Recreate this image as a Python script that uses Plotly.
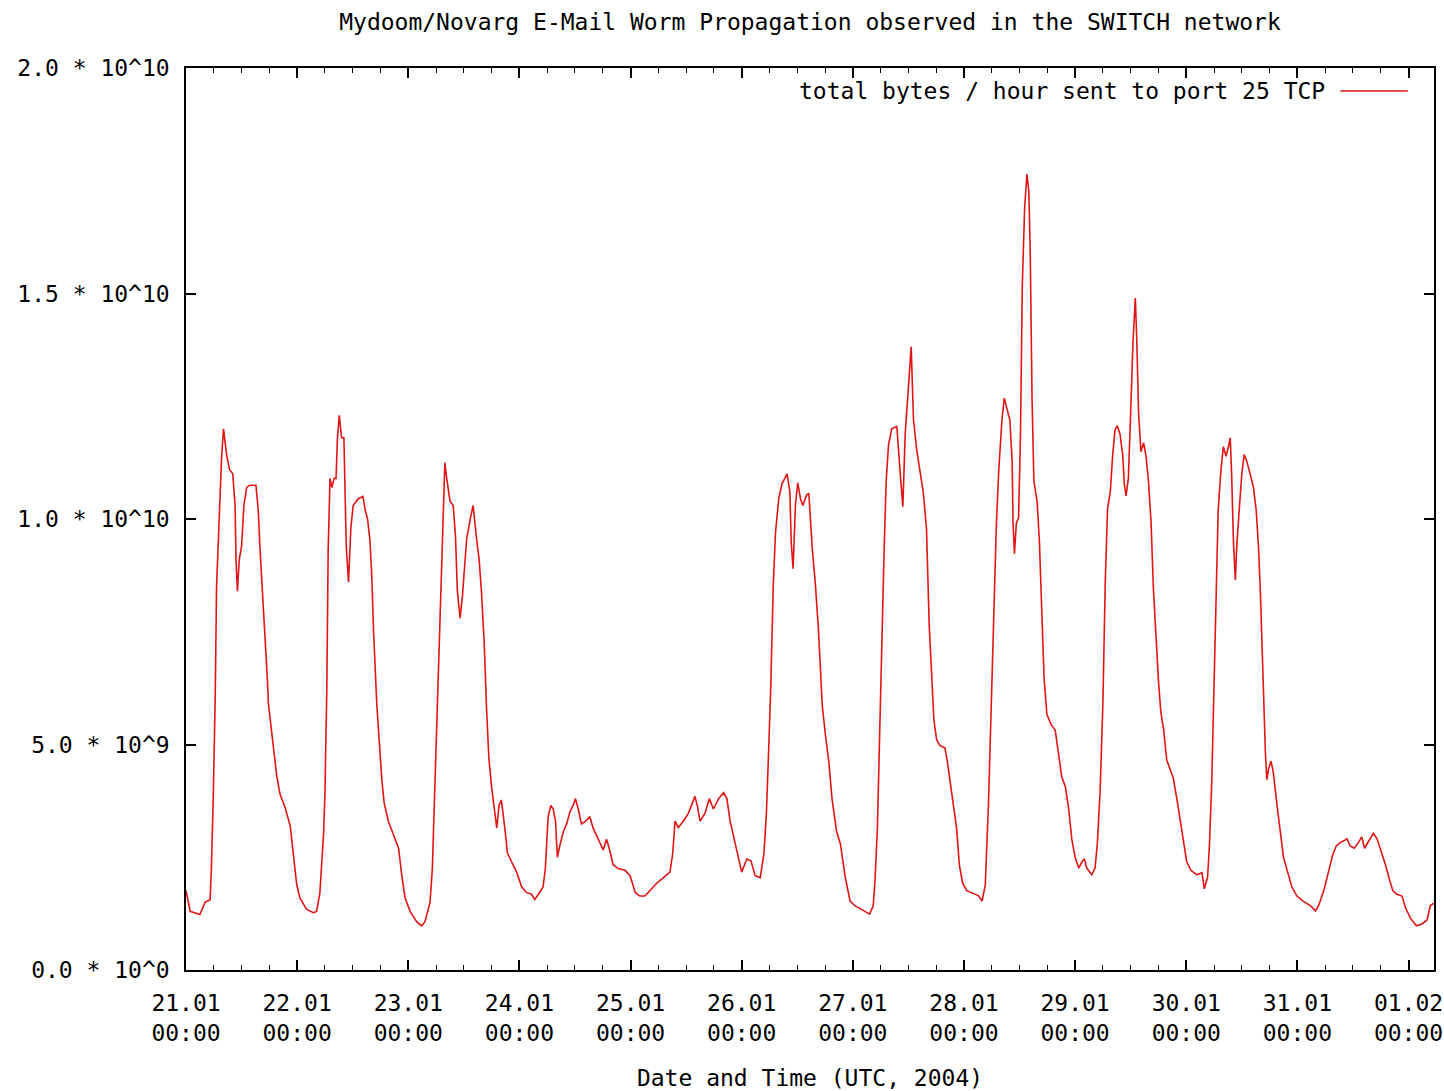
import pandas as pd
import plotly.graph_objects as go

# hours after 21.01.2004 00:00 UTC
hours = [
    0.0, 0.9, 3.0, 4.1, 5.2, 5.5, 5.9, 6.3, 6.6, 7.2, 7.7, 8.1, 8.8, 9.4, 10.1, 10.6, 10.8, 11.1, 11.5, 12.0,
    12.5, 13.1, 13.8, 15.1, 15.6, 16.0, 16.6, 17.1, 17.6, 17.8, 18.5, 19.0, 19.6, 20.3, 21.4, 22.5, 23.2, 23.9,
    24.6, 26.0, 27.5, 28.2, 28.9, 29.7, 30.0, 30.4, 30.7, 31.1, 31.5, 32.0, 32.4, 32.7, 33.1, 33.6, 34.1, 34.6,
    35.1, 35.6, 36.1, 37.2, 38.2, 38.7, 39.2, 39.7, 40.1, 40.5, 41.2, 41.8, 42.3, 42.8, 43.7, 44.8, 45.9, 46.6,
    47.3, 48.4, 49.8, 50.9, 51.6, 52.7, 53.2, 53.6, 54.1, 54.6, 55.1, 55.6, 55.9, 56.3, 57.0, 57.7, 58.2, 58.6,
    59.2, 59.7, 60.1, 60.6, 61.3, 62.0, 62.7, 63.3, 63.8, 64.4, 64.9, 65.4, 66.0, 66.6, 67.1, 67.6, 68.1, 68.9,
    69.4, 70.3, 71.4, 72.5, 73.5, 74.6, 75.3, 76.1, 77.1, 77.6, 78.2, 78.8, 79.3, 79.8, 80.2, 80.7, 81.5, 82.2,
    82.9, 83.6, 84.1, 84.7, 85.4, 86.3, 87.2, 87.9, 89.0, 90.1, 90.8, 91.5, 92.2, 93.3, 94.8, 95.9, 97.0, 98.0,
    99.1, 100.2, 101.7, 103.1, 104.5, 105.1, 105.6, 106.3, 107.4, 108.5, 109.9, 110.4, 111.0, 112.1, 113.0,
    113.9, 115.0, 116.1, 116.8, 117.5, 118.6, 119.3, 120.0, 121.1, 122.0, 122.9, 124.0, 124.8, 125.3, 125.8,
    126.3, 126.8, 127.3, 128.0, 128.7, 129.8, 130.4, 130.7, 131.1, 131.6, 132.1, 132.7, 133.2, 134.0, 134.5,
    135.2, 135.9, 136.6, 137.4, 138.1, 138.8, 139.5, 140.5, 141.3, 142.3, 143.4, 144.5, 145.6, 146.6, 147.6,
    148.4, 148.8, 149.3, 149.7, 150.3, 150.8, 151.2, 151.7, 152.4, 153.5, 154.2, 154.8, 155.3, 155.8, 156.3,
    156.6, 157.1, 157.8, 158.5, 159.2, 159.9, 160.5, 161.0, 161.5, 162.1, 162.8, 163.9, 164.4, 165.0, 165.7,
    166.4, 167.0, 167.7, 168.6, 170.0, 171.1, 171.9, 172.6, 173.3, 173.8, 174.4, 175.0, 175.5, 176.2, 176.7,
    177.3, 177.9, 178.4, 178.6, 178.9, 179.3, 179.8, 180.2, 180.6, 181.1, 181.6, 182.0, 182.3, 182.7, 183.1,
    183.8, 184.3, 184.8, 185.3, 185.9, 186.8, 187.7, 188.4, 189.1, 189.9, 190.6, 191.3, 192.0, 192.8, 193.5,
    194.0, 194.5, 195.6, 196.3, 196.8, 197.4, 198.0, 198.5, 199.0, 199.6, 200.1, 200.6, 201.1, 201.7, 202.3,
    202.6, 203.0, 203.5, 203.9, 204.5, 205.0, 205.3, 205.7, 206.2, 206.8, 207.3, 207.8, 208.4, 208.9, 209.5,
    210.0, 210.5, 211.1, 211.8, 212.5, 213.2, 214.0, 214.7, 215.4, 216.1, 217.0, 218.3, 219.4, 219.9, 220.6,
    221.0, 221.5, 222.0, 222.5, 222.9, 223.5, 224.0, 224.6, 225.1, 225.5, 225.8, 226.2, 226.6, 226.9, 227.5,
    228.0, 228.5, 229.1, 229.8, 230.5, 231.1, 231.6, 232.0, 232.4, 232.7, 233.1, 233.4, 233.8, 234.3, 234.8,
    235.6, 236.3, 237.0, 237.9, 238.8, 239.9, 241.3, 242.8, 243.9, 244.6, 245.7, 246.7, 247.7, 248.4, 249.3,
    250.1, 250.7, 251.4, 252.3, 253.2, 253.9, 254.5, 255.4, 256.4, 257.2, 258.0, 259.0, 259.9, 260.6, 261.5,
    262.6, 263.3, 264.4, 265.7, 266.9, 268.0, 268.7, 269.5,
]

# total bytes / hour, in units of 10^10
bytes_e10 = [
    0.176, 0.13, 0.123, 0.15, 0.156, 0.23, 0.39, 0.60, 0.85, 1.03, 1.14, 1.20, 1.14, 1.11, 1.10, 1.03, 0.91, 0.84, 0.91, 0.94,
    1.03, 1.07, 1.075, 1.075, 1.02, 0.93, 0.83, 0.73, 0.64, 0.59, 0.53, 0.48, 0.43, 0.39, 0.36, 0.32, 0.26, 0.19,
    0.16, 0.135, 0.127, 0.13, 0.17, 0.30, 0.39, 0.62, 0.93, 1.09, 1.07, 1.09, 1.09, 1.18, 1.23, 1.18, 1.18, 0.94,
    0.86, 0.98, 1.03, 1.045, 1.05, 1.02, 1.0, 0.955, 0.88, 0.75, 0.59, 0.49, 0.42, 0.37, 0.33, 0.30, 0.27, 0.21,
    0.16, 0.13, 0.107, 0.098, 0.107, 0.15, 0.225, 0.36, 0.52, 0.71, 0.89, 1.045, 1.125, 1.09, 1.04, 1.03, 0.96, 0.84,
    0.78, 0.83, 0.89, 0.955, 0.996, 1.03, 0.96, 0.91, 0.84, 0.725, 0.58, 0.47, 0.405, 0.36, 0.315, 0.365, 0.377, 0.31,
    0.26, 0.24, 0.217, 0.184, 0.172, 0.168, 0.156, 0.168, 0.184, 0.225, 0.34, 0.365, 0.357, 0.33, 0.25, 0.275, 0.307, 0.324,
    0.35, 0.365, 0.38, 0.357, 0.324, 0.33, 0.34, 0.315, 0.29, 0.266, 0.29, 0.266, 0.234, 0.225, 0.221, 0.209, 0.172, 0.164,
    0.164, 0.176, 0.193, 0.205, 0.217, 0.258, 0.33, 0.316, 0.33, 0.348, 0.385, 0.365, 0.33, 0.348, 0.38,
    0.357, 0.38, 0.393, 0.38, 0.33, 0.283, 0.25, 0.217, 0.246, 0.242, 0.209, 0.205, 0.258, 0.34, 0.48,
    0.635, 0.85, 0.97, 1.045, 1.078, 1.10, 1.06, 0.947, 0.89, 1.03, 1.08, 1.045, 1.03, 1.053, 1.057,
    0.94, 0.857, 0.75, 0.586, 0.52, 0.463, 0.38, 0.307, 0.28, 0.21, 0.153, 0.142, 0.136, 0.13, 0.124,
    0.142, 0.20, 0.315, 0.498, 0.75, 0.947, 1.084, 1.164, 1.20, 1.205, 1.106, 1.027, 1.187, 1.268, 1.348,
    1.382, 1.22, 1.153, 1.106, 1.06, 0.98, 0.763, 0.659, 0.555, 0.51, 0.498, 0.492, 0.463, 0.418, 0.371,
    0.315, 0.233, 0.193, 0.176, 0.17, 0.165, 0.153, 0.188, 0.371, 0.555, 0.808, 0.99, 1.106, 1.22, 1.268,
    1.245, 1.22, 1.13, 0.99, 0.923, 0.99, 1.003, 1.187, 1.52, 1.69, 1.765, 1.727, 1.60, 1.268, 1.084,
    1.038, 0.947, 0.808, 0.647, 0.567, 0.544, 0.532, 0.474, 0.429, 0.406, 0.358, 0.289, 0.25, 0.226, 0.24,
    0.246, 0.226, 0.211, 0.226, 0.28, 0.397, 0.592, 0.856, 1.022, 1.061, 1.14, 1.197, 1.207, 1.188, 1.14,
    1.08, 1.051, 1.09, 1.207, 1.393, 1.49, 1.403, 1.237, 1.149, 1.169, 1.14, 1.09, 0.993, 0.847, 0.729,
    0.641, 0.573, 0.534, 0.465, 0.446, 0.426, 0.377, 0.328, 0.289, 0.24, 0.221, 0.211, 0.216, 0.18, 0.205,
    0.275, 0.414, 0.602, 0.848, 1.02, 1.11, 1.16, 1.139, 1.16, 1.18, 1.10, 0.947, 0.865, 0.939, 1.029,
    1.10, 1.143, 1.127, 1.10, 1.07, 1.02, 0.939, 0.84, 0.709, 0.586, 0.48, 0.422, 0.447, 0.463, 0.438,
    0.365, 0.30, 0.25, 0.217, 0.184, 0.164, 0.152, 0.143, 0.131, 0.143, 0.176, 0.217, 0.258, 0.275, 0.283,
    0.287, 0.291, 0.275, 0.27, 0.283, 0.295, 0.27, 0.287, 0.303, 0.291, 0.266, 0.234, 0.20, 0.176, 0.168,
    0.164, 0.139, 0.115, 0.098, 0.102, 0.111, 0.143, 0.148,
]

x_tick_dates = ["2004-01-21", "2004-01-22", "2004-01-23", "2004-01-24", "2004-01-25", "2004-01-26",
                "2004-01-27", "2004-01-28", "2004-01-29", "2004-01-30", "2004-01-31", "2004-02-01"]
x_tick_labels = ["21.01<br>00:00", "22.01<br>00:00", "23.01<br>00:00", "24.01<br>00:00",
                 "25.01<br>00:00", "26.01<br>00:00", "27.01<br>00:00", "28.01<br>00:00",
                 "29.01<br>00:00", "30.01<br>00:00", "31.01<br>00:00", "01.02<br>00:00"]
y_tick_vals = [0, 5e9, 1e10, 1.5e10, 2e10]
y_tick_labels = ["0.0 * 10^0", "5.0 * 10^9", "1.0 * 10^10", "1.5 * 10^10", "2.0 * 10^10"]

start = pd.Timestamp("2004-01-21 00:00")
times = start + pd.to_timedelta(hours, unit="h")
values = [v * 1e10 for v in bytes_e10]

FONT = "DejaVu Sans Mono"
RED = "#e01515"

fig = go.Figure()
fig.add_trace(go.Scatter(x=times, y=values, mode="lines",
                         line=dict(color=RED, width=1.6),
                         name="total bytes / hour sent to port 25 TCP",
                         showlegend=False, hoverinfo="skip"))

# plot box at 186..1434 x 68..970 of a 1444x1091 page (body margin removed below)
fig.update_layout(
    width=1444, height=1091,
    margin=dict(l=186, r=10, t=68, b=121, autoexpand=False),
    paper_bgcolor="white", plot_bgcolor="white",
    font=dict(family=FONT, size=23, color="black"),
    title=dict(text="Mydoom/Novarg E-Mail Worm Propagation observed in the SWITCH network",
               x=0.5, xref="paper", xanchor="center", y=1 - 22 / 1091, yref="container",
               yanchor="middle", font=dict(family=FONT, size=23, color="black")),
)

fig.update_xaxes(
    type="date", automargin=False,
    range=[start, start + pd.Timedelta(hours=269.5)],
    tickmode="array", tickvals=x_tick_dates, ticktext=x_tick_labels,
    ticks="inside", ticklen=10, tickwidth=1.5, tickcolor="black",
    showline=True, linecolor="black", linewidth=1.5, mirror="allticks",
    showgrid=False, zeroline=False,
    minor=dict(ticks="inside", ticklen=5, tickwidth=1.2, tickcolor="black",
               dtick=6 * 3600 * 1000, tick0="2004-01-21", showgrid=False),
    tickfont=dict(family=FONT, size=23, color="black"),
    ticklabelstandoff=12,
    ticklabeloverflow="allow",
    title=dict(text="Date and Time (UTC, 2004)", standoff=39,
               font=dict(family=FONT, size=23, color="black")),
)
fig.update_yaxes(
    automargin=False,
    range=[0, 2e10],
    tickmode="array", tickvals=y_tick_vals, ticktext=y_tick_labels,
    ticks="inside", ticklen=10, tickwidth=1.5, tickcolor="black",
    showline=True, linecolor="black", linewidth=1.5, mirror="allticks",
    showgrid=False, zeroline=False,
    tickfont=dict(family=FONT, size=23, color="black"),
    ticklabelstandoff=10,
)

# gnuplot-style key: text followed by a line sample, top right inside the plot
fig.add_annotation(text="total bytes / hour sent to port 25 TCP", xref="paper", yref="paper",
                   x=0.9143, y=0.9745, xanchor="right", yanchor="middle", showarrow=False,
                   font=dict(family=FONT, size=23, color="black"))
fig.add_shape(type="line", xref="paper", yref="paper", x0=0.925, x1=0.979, y0=0.9745, y1=0.9745,
              line=dict(color=RED, width=1.6))

fig.write_html(
    "out.html",
    config={"displayModeBar": False},
    post_script="document.body.style.margin='0';document.documentElement.style.overflow='hidden';",
)
